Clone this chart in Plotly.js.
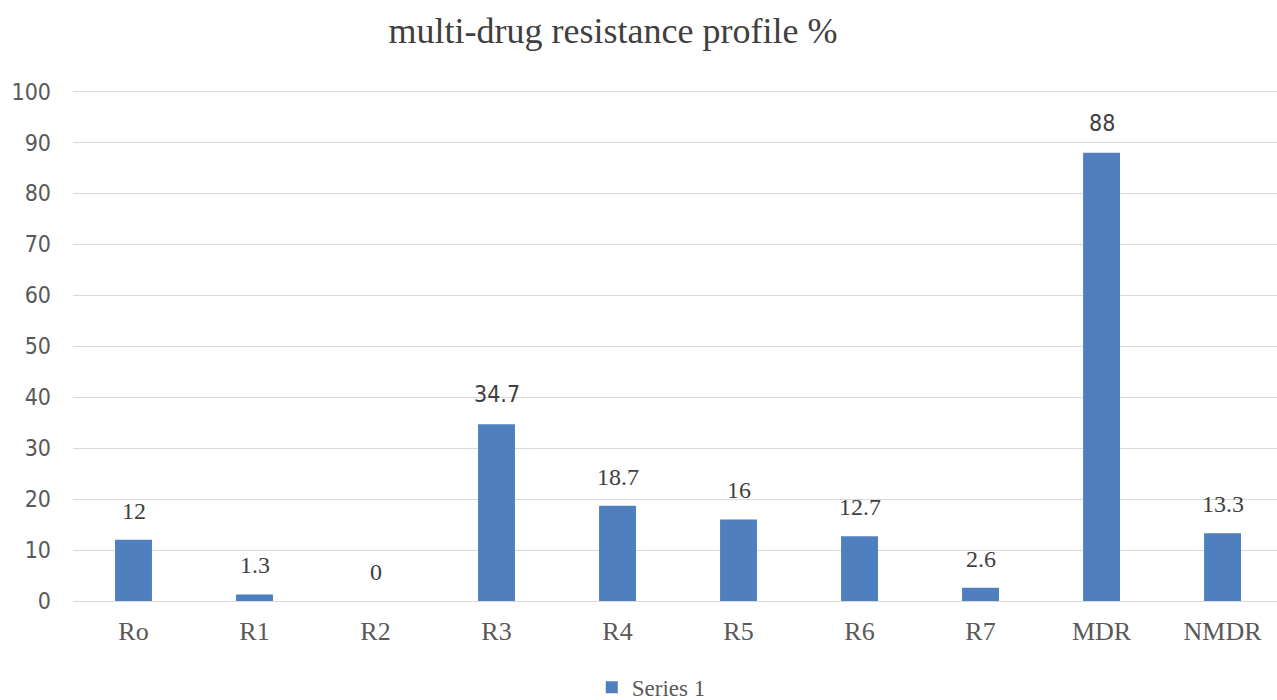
<!DOCTYPE html>
<html>
<head>
<meta charset="utf-8">
<script src="https://cdn.plot.ly/plotly-3.0.1.min.js"></script>
<style>html,body{margin:0;padding:0;background:#fff;}#chart{width:1277px;height:700px;}</style>
</head>
<body>
<div id="chart"></div>
<script>
const categories = ["Ro", "R1", "R2", "R3", "R4", "R5", "R6", "R7", "MDR", "NMDR"];
const values = [12, 1.3, 0, 34.7, 18.7, 16, 12.7, 2.6, 88, 13.3];
const valueLabels = ["12", "1.3", "0", "34.7", "18.7", "16", "12.7", "2.6", "88", "13.3"];
const yTicks = [0, 10, 20, 30, 40, 50, 60, 70, 80, 90, 100];

const serif = "Liberation Serif, Times New Roman, serif";
const sans = "Liberation Sans Narrow, DejaVu Sans Condensed, sans-serif";

const trace = {
  type: "bar",
  x: categories,
  y: values,
  name: "Series 1",
  marker: {color: "#4f7fbe"},
  width: 0.305,
  hoverinfo: "x+y"
};

const annotations = categories.map((c, i) => {
  const isSans = (valueLabels[i] === "34.7" || valueLabels[i] === "88");
  return {
    x: c, y: values[i], xref: "x", yref: "y",
    text: valueLabels[i], showarrow: false,
    xanchor: "center", yanchor: "bottom", yshift: isSans ? 15 : 14,
    font: {family: isSans ? sans : serif, size: isSans ? 23 : 24, color: "#404040"}
  };
});

const layout = {
  width: 1277,
  height: 700,
  margin: {l: 73, r: 0, t: 90, b: 99},
  paper_bgcolor: "#ffffff",
  plot_bgcolor: "#ffffff",
  title: {
    text: "multi-drug resistance profile %",
    font: {family: serif, size: 36, color: "#404040"},
    xref: "container", x: 0.48, xanchor: "center",
    yref: "container", y: 0.957, yanchor: "middle"
  },
  xaxis: {
    type: "category",
    range: [-0.5, 9.45],
    showgrid: false,
    showline: false,
    zeroline: false,
    ticks: "",
    tickfont: {family: serif, size: 26, color: "#595959"},
    ticklabelstandoff: 12
  },
  yaxis: {
    range: [0, 100.3],
    tickvals: yTicks,
    ticktext: yTicks.map(String),
    showgrid: true,
    gridcolor: "#d9d9d9",
    gridwidth: 1,
    zeroline: true,
    zerolinecolor: "#d9d9d9",
    zerolinewidth: 1,
    showline: false,
    ticks: "",
    tickfont: {family: sans, size: 23, color: "#595959"},
    ticklabelstandoff: 21
  },
  annotations: annotations,
  showlegend: true,
  legend: {
    orientation: "h",
    xref: "container", x: 0.51, xanchor: "center",
    yref: "container", y: 0.018, yanchor: "middle",
    font: {family: serif, size: 23, color: "#595959"},
    itemwidth: 30
  },
  bargap: 0.7
};

Plotly.newPlot("chart", [trace], layout, {displayModeBar: false, staticPlot: true});
</script>
</body>
</html>
